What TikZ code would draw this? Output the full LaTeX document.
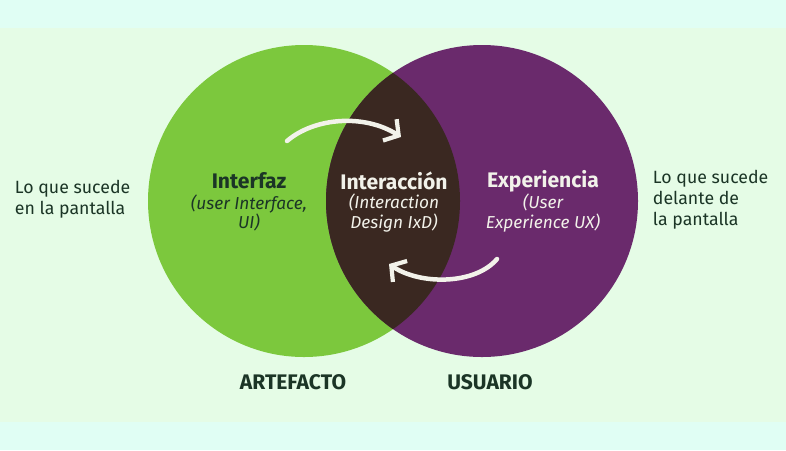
\documentclass[tikz,border=0pt]{standalone}
\usepackage{fontspec}
\setmainfont{Fira Sans}
\usetikzlibrary{arrows.meta}

\definecolor{bandcyan}{HTML}{E0FEF4}
\definecolor{paleback}{HTML}{E5FCE6}
\definecolor{limegreen}{HTML}{7CC83D}
\definecolor{plum}{HTML}{6A2A6C}
\definecolor{darkbrown}{HTML}{3A2821}
\definecolor{inkgreen}{HTML}{1B3526}
\definecolor{offwhite}{HTML}{F2F2EA}

\begin{document}
\begin{tikzpicture}[x=0.025cm,y=-0.025cm,
    side/.style={align=left,anchor=west,text=inkgreen,
      font=\fontsize{12.6}{14.8}\selectfont},
    title/.style={font=\fontsize{15}{17}\selectfont\bfseries},
    sub/.style={align=center,font=\fontsize{12.3}{13.8}\selectfont\itshape},
    loop/.style={draw=offwhite,line width=3.2pt,line cap=round,
      -{Straight Barb[length=7.5pt,width=18pt,line width=3pt]}}]

  % Background
  \fill[bandcyan] (0,0) rectangle (786,450);
  \fill[paleback] (0,28) rectangle (786,422);

  % Circles
  \coordinate (artefacto) at (304,201);
  \coordinate (usuario) at (482,201);
  \fill[limegreen] (artefacto) circle (156);
  \fill[plum] (usuario) circle (156);
  \begin{scope}
    \clip (artefacto) circle (156);
    \fill[darkbrown] (usuario) circle (156);
  \end{scope}

  % Side texts
  \node[side] (pantalla) at (10,199) {Lo que sucede\\en la pantalla};
  \node[side] (delante) at (648,200) {Lo que sucede\\delante de\\la pantalla};

  % Circle texts
  \node[title,text=inkgreen] (interfaz) at (249,181) {Interfaz};
  \node[sub,text=inkgreen] (ui) at (249,213) {(user Interface,\\UI)};
  \node[title,text=offwhite] (interaccion) at (394,181) {Interacción};
  \node[sub,text=offwhite] (ixd) at (394,213) {(Interaction\\Design IxD)};
  \node[title,text=offwhite] (experiencia) at (543,181) {Experiencia};
  \node[sub,text=offwhite] (ux) at (543,213) {(User\\Experience UX)};

  % Bottom labels
  \node[title,text=inkgreen] (lblart) at (293,382) {ARTEFACTO};
  \node[title,text=inkgreen] (lblusu) at (490,382) {USUARIO};

  % Loop arrows
  \coordinate (up0) at (287,141);
  \coordinate (up1) at (401,137);
  \coordinate (lo0) at (497,259);
  \coordinate (lo1) at (389,264);
  \draw[loop] (up0) .. controls (315,117) and (365,114) .. (up1);
  \draw[loop] (lo0) .. controls (475,285) and (420,285) .. (lo1);
\end{tikzpicture}
\end{document}
